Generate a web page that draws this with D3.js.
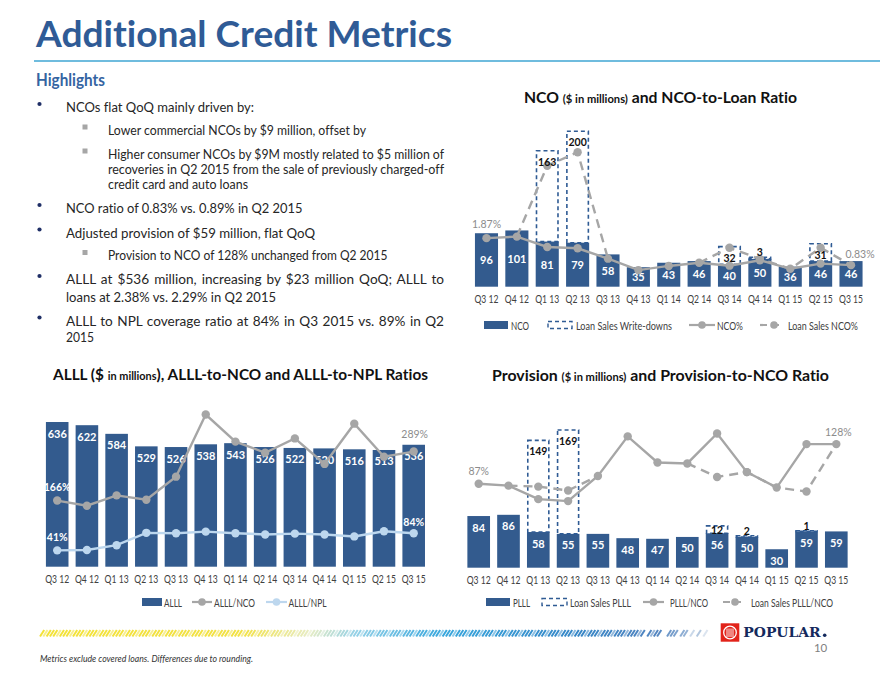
<!DOCTYPE html>
<html><head><meta charset="utf-8">
<script src="https://cdn.jsdelivr.net/npm/d3@7"></script>
<style>body{margin:0;background:#fff;}svg{display:block;font-variant-ligatures:none;}</style>
</head><body>
<script>
// ---------------- DATA ----------------
const quarters = ["Q3 12","Q4 12","Q1 13","Q2 13","Q3 13","Q4 13","Q1 14","Q2 14","Q3 14","Q4 14","Q1 15","Q2 15","Q3 15"];

// NCO chart
const ncoValues = [96,101,81,79,58,35,43,46,40,50,36,46,46];
const ncoLoanSales = [null,null,163,200,null,null,null,null,32,3,null,31,null];
const ncoRatio = [1.87,1.93,1.53,1.48,1.08,0.64,0.80,0.92,0.81,1.02,0.69,0.89,0.83];
const ncoLoanSalesRatio = [null,1.93,4.66,5.18,1.08,null,null,0.92,1.50,1.07,0.69,1.50,0.83];

// ALLL chart
const alllValues = [636,622,584,529,526,538,543,526,522,520,516,513,536];
const alllToNco = [166,153,179,168,226,382,314,286,322,258,359,276,289];
const alllToNpl = [41,42,54,85,84,88,84,81,83,81,76,89,84];

// Provision chart
const plllValues = [84,86,58,55,55,48,47,50,56,50,30,59,59];
const plllLoanSales = [null,null,149,169,null,null,null,null,12,2,null,1,null];
const plllToNco = [87,85,71,69,95,136,109,108,139,99,83,128,128];
const plllLoanSalesToNco = [null,85,84,80,95,null,null,108,94,99,83,79,128];

// Text
const pageTitle = "Additional Credit Metrics";
const highlightsTitle = "Highlights";
const highlightLines = [
  "NCOs flat QoQ mainly driven by:",
  "Lower commercial NCOs by $9 million, offset by",
  "Higher consumer NCOs by $9M mostly related to $5 million of",
  "recoveries in Q2 2015 from the sale of previously charged-off",
  "credit card and auto loans",
  "NCO ratio of 0.83% vs. 0.89% in Q2 2015",
  "Adjusted provision of $59 million, flat QoQ",
  "Provision to NCO of 128% unchanged from Q2 2015",
  "ALLL at $536 million, increasing by $23 million QoQ; ALLL to",
  "loans at 2.38% vs. 2.29% in Q2 2015",
  "ALLL to NPL coverage ratio at 84% in Q3 2015 vs. 89% in Q2",
  "2015"
];
const footnote = "Metrics exclude covered loans. Differences due to rounding.";
const pageNumber = "10";

// ---------------- LAYOUT / STYLE ----------------
const FONT = "Lato, 'Open Sans', 'DejaVu Sans', sans-serif";
const BAR = "#335b8e", GRAY = "#a6a6a6", LIGHT = "#bdd7ee", DASHBLUE = "#2f5b94", TITLEBLUE = "#2f5b96";

const svg = d3.select("body").append("svg").attr("width",880).attr("height",680)
  .style("font-family", FONT);

// Page title
svg.append("text").attr("x",36).attr("y",47).text(pageTitle)
  .attr("font-size",37).attr("font-weight",700).attr("fill",TITLEBLUE)
  .attr("textLength",416).attr("lengthAdjust","spacingAndGlyphs");
svg.append("line").attr("x1",34).attr("x2",880).attr("y1",61).attr("y2",61)
  .attr("stroke","#3fa6d3").attr("stroke-width",1.6);
svg.append("text").attr("x",36).attr("y",86).text(highlightsTitle)
  .attr("font-size",16.5).attr("font-weight",700).attr("fill","#3464a2")
  .attr("textLength",69).attr("lengthAdjust","spacingAndGlyphs");

// Highlight lines layout
const lineLevel = [1,2,2,0,0,1,1,2,1,0,1,0]; // 1: bullet, 2: sub-bullet, 0: continuation
const lineIndent = [66,108,108,108,108,66,66,108,66,66,66,66];
const lineBase = [112,134.5,158.5,174,189,213,237.5,260,284,302,325.5,341.5];
const lineEnd = [254,366,444,444,248,302.5,315,387.5,444,276,444,94];
const lineJust = [0,0,1,1,0,0,0,0,1,0,1,0];
highlightLines.forEach((t,i)=>{
  const size = lineIndent[i] > 100 ? 13 : 13.6;
  const el = svg.append("text").attr("x",lineIndent[i]).attr("y",lineBase[i])
    .attr("font-size",size).attr("fill","#262626").text(t);
  const w = el.node().getComputedTextLength();
  const target = lineEnd[i]-lineIndent[i];
  if (lineJust[i]) {
    const spaces = (t.match(/ /g)||[]).length;
    const ws = (target - w)/spaces;
    if (ws > -1.5) el.style("word-spacing", ws+"px");
    else el.attr("textLength",target).attr("lengthAdjust","spacingAndGlyphs");
  } else {
    el.attr("textLength",target).attr("lengthAdjust","spacingAndGlyphs");
  }
  if (lineLevel[i]===1) {
    svg.append("circle").attr("cx",39.5).attr("cy",lineBase[i]-8).attr("r",2.1).attr("fill","#1f2f66");
  } else if (lineLevel[i]===2) {
    svg.append("rect").attr("x",82.5).attr("y",lineBase[i]-10).attr("width",5).attr("height",5).attr("fill","#a6a6a6");
  }
});

// Chart titles
function chartTitle(cx, y, parts, len){
  const t = svg.append("text").attr("x",cx).attr("y",y).attr("text-anchor","middle")
    .attr("font-weight",700).attr("fill","#111");
  parts.forEach(p=>t.append("tspan").attr("font-size",p[1]).text(p[0]));
  t.attr("textLength",len).attr("lengthAdjust","spacingAndGlyphs");
}
chartTitle(660.5, 102.5, [["NCO ",15.5],["($ in millions)",11],[" and NCO-to-Loan Ratio",15.5]], 273);
chartTitle(240.5, 380, [["ALLL ($ ",15.5],["in millions",11],["), ALLL-to-NCO and ALLL-to-NPL Ratios",15.5]], 375);
chartTitle(660.5, 380.5, [["Provision ",15],["($ in millions)",10.5],[" and Provision-to-NCO Ratio",15]], 337);

// ---------------- CHART DRAWER ----------------
function drawChart(o){
  const g = svg.append("g");
  const x = d3.scaleBand().domain(quarters).range(o.xRange).paddingInner(0.24).paddingOuter(0.12);
  const y = d3.scaleLinear().domain([0,o.yMax]).range([o.base,o.yTop]);
  const yp = d3.scaleLinear().domain([0,o.pMax]).range([o.base,o.pTop]);
  const cx = i => x(quarters[i]) + x.bandwidth()/2;

  // bars
  g.append("g").selectAll("rect").data(o.bars).join("rect")
    .attr("x",(d,i)=>x(quarters[i])).attr("y",d=>y(d))
    .attr("width",x.bandwidth()).attr("height",d=>o.base-y(d)).attr("fill",BAR);

  // loan-sale boxes
  if (o.boxes) {
    const bd = o.boxes.map((v,i)=>({v,i})).filter(d=>d.v!=null);
    g.append("g").selectAll("rect").data(bd).join("rect")
      .attr("x",d=>x(quarters[d.i])+0.8).attr("width",x.bandwidth()-1.6)
      .attr("y",d=>y(o.bars[d.i]+d.v)).attr("height",d=>y(o.bars[d.i])-y(o.bars[d.i]+d.v))
      .attr("fill","none").attr("stroke",DASHBLUE).attr("stroke-width",1.6).attr("stroke-dasharray","4,3");
  }

  // axis
  const ax = g.append("g").attr("transform",`translate(0,${o.base})`)
    .call(d3.axisBottom(x).tickSize(0).tickPadding(9));
  ax.select(".domain").remove();
  ax.attr("font-family",FONT).attr("font-size",11);
  ax.selectAll("text").attr("fill","#404040").attr("textLength",24).attr("lengthAdjust","spacingAndGlyphs");

  // bar value labels
  g.append("g").selectAll("text").data(o.bars).join("text")
    .attr("x",(d,i)=>cx(i))
    .attr("y",d=> o.labelMode==="center" ? (y(d)+o.base)/2 : y(d)+11)
    .attr("dominant-baseline","central").attr("text-anchor","middle")
    .attr("font-size",11).attr("font-weight",700).attr("fill","#fff").text(d=>d);

  // lines
  const line = s => d3.line().defined(d=>d!=null).x((d,i)=>cx(i)).y(d=>yp(d))(s);
  o.lines.forEach(L=>{
    g.append("path").attr("d",line(L.data)).attr("fill","none").attr("stroke",L.color)
      .attr("stroke-width",2.4).attr("stroke-dasharray",L.dash?"9,6":null);
  });
  o.lines.forEach(L=>{
    g.append("g").selectAll("circle").data(L.data.map((v,i)=>({v,i})).filter(d=>d.v!=null && (!L.dotsWhere || L.dotsWhere[d.i]!=null)))
      .join("circle").attr("cx",d=>cx(d.i)).attr("cy",d=>yp(d.v)).attr("r",4.2).attr("fill",L.color);
  });

  // box labels
  if (o.boxes) {
    const bd = o.boxes.map((v,i)=>({v,i})).filter(d=>d.v!=null);
    g.append("g").selectAll("text").data(bd).join("text")
      .attr("x",d=>cx(d.i))
      .attr("y",d=>{
        const top = y(o.bars[d.i]+d.v), h = y(o.bars[d.i]) - top;
        return h > 15 ? top+11 : (h > 5 ? top+4 : top-5);
      })
      .attr("dominant-baseline","central").attr("text-anchor","middle")
      .attr("font-size",10.5).attr("font-weight",700).attr("fill","#111").text(d=>d.v);
  }

  // percent labels
  o.pctLabels.forEach(p=>{
    const v = p.series[p.i];
    g.append("text").attr("x",cx(p.i)+(p.dx||0)).attr("y",yp(v)+p.dy)
      .attr("dominant-baseline","central").attr("text-anchor","middle")
      .attr("font-size",10.5).attr("font-weight",p.white?700:400)
      .attr("fill",p.white?"#fff":"#8c8c8c").text(p.fmt(v));
  });

  // legend
  o.legend.forEach(it=>{
    const ly = o.legendY;
    if (it.type==="bar") g.append("rect").attr("x",it.x).attr("y",ly-4).attr("width",it.w).attr("height",8).attr("fill",BAR);
    if (it.type==="box") g.append("rect").attr("x",it.x).attr("y",ly-3.5).attr("width",it.w).attr("height",7)
      .attr("fill","none").attr("stroke",DASHBLUE).attr("stroke-width",1.4).attr("stroke-dasharray","4,3");
    if (it.type==="line"||it.type==="dash") {
      g.append("line").attr("x1",it.x).attr("x2",it.x+it.w).attr("y1",ly).attr("y2",ly)
        .attr("stroke",it.color).attr("stroke-width",2.2).attr("stroke-dasharray",it.type==="dash"?"7,5":null);
      g.append("circle").attr("cx",it.x+it.w/2+(it.type==="dash"?3:0)).attr("cy",ly).attr("r",3.8).attr("fill",it.color);
    }
    g.append("text").attr("x",it.tx).attr("y",ly).attr("dominant-baseline","central")
      .attr("font-size",11).attr("fill","#404040").text(it.label)
      .attr("textLength",it.tw).attr("lengthAdjust","spacingAndGlyphs");
  });
}

const pct2 = v => v.toFixed(2)+"%";
const pct0 = v => Math.round(v)+"%";

drawChart({
  xRange:[471.3,866.2], base:286.7, yMax:300, yTop:286.7-300*0.557, pMax:6, pTop:286.7-6*25.96,
  bars:ncoValues, boxes:ncoLoanSales, labelMode:"center",
  lines:[
    {data:ncoLoanSalesRatio, color:GRAY, dash:true, dotsWhere:ncoLoanSales},
    {data:ncoRatio, color:GRAY}
  ],
  pctLabels:[
    {series:ncoRatio, i:0, dy:-14, fmt:pct2},
    {series:ncoRatio, i:12, dy:-11, dx:9, fmt:pct2}
  ],
  legendY:325,
  legend:[
    {type:"bar", x:484, w:24, tx:511, tw:18, label:"NCO"},
    {type:"box", x:548, w:24, tx:576, tw:96, label:"Loan Sales Write-downs"},
    {type:"line", x:689, w:26, tx:717, tw:26, color:GRAY, label:"NCO%"},
    {type:"dash", x:760, w:22, tx:788, tw:70, color:GRAY, label:"Loan Sales NCO%"}
  ]
});

drawChart({
  xRange:[42.35,428.55], base:566.7, yMax:700, yTop:566.7-700*0.2275, pMax:400, pTop:566.7-400*0.3984,
  bars:alllValues, labelMode:"top",
  lines:[
    {data:alllToNpl, color:LIGHT},
    {data:alllToNco, color:GRAY}
  ],
  pctLabels:[
    {series:alllToNco, i:0, dy:-14, white:true, fmt:pct0},
    {series:alllToNco, i:12, dy:-18, dx:1, fmt:pct0},
    {series:alllToNpl, i:0, dy:-13, white:true, fmt:pct0},
    {series:alllToNpl, i:12, dy:-11, white:true, fmt:pct0}
  ],
  legendY:602,
  legend:[
    {type:"bar", x:142, w:20, tx:164, tw:18, label:"ALLL"},
    {type:"line", x:192, w:20, tx:214, tw:41, color:GRAY, label:"ALLL/NCO"},
    {type:"line", x:266, w:21, tx:288.5, tw:38, color:LIGHT, label:"ALLL/NPL"}
  ]
});

drawChart({
  xRange:[463.8,851.2], base:567.7, yMax:250, yTop:567.7-250*0.615, pMax:160, pTop:567.7-160*0.9655,
  bars:plllValues, boxes:plllLoanSales, labelMode:"top",
  lines:[
    {data:plllLoanSalesToNco, color:GRAY, dash:true, dotsWhere:plllLoanSales},
    {data:plllToNco, color:GRAY}
  ],
  pctLabels:[
    {series:plllToNco, i:0, dy:-13, fmt:pct0},
    {series:plllToNco, i:12, dy:-12, dx:2, fmt:pct0}
  ],
  legendY:602,
  legend:[
    {type:"bar", x:486, w:24, tx:513, tw:17, label:"PLLL"},
    {type:"box", x:542, w:25, tx:570, tw:61, label:"Loan Sales PLLL"},
    {type:"line", x:643, w:21, tx:670, tw:38, color:GRAY, label:"PLLL/NCO"},
    {type:"dash", x:723, w:18, tx:751, tw:82, color:GRAY, label:"Loan Sales PLLL/NCO"}
  ]
});

// ---------------- FOOTER ----------------
const stripeColor = d3.scaleLinear()
  .domain([0,0.3,0.4,0.47,0.6,0.8,0.92,1])
  .range(["#f3e12f","#f2e03c","#e6ecc2","#8fcfe6","#2ea3dc","#2c80c4","#4a7fbd","#c9d6e6"]);
const sx0 = 40, sx1 = 708, step = 3.3;
const sg = svg.append("g");
for (let xx = sx0; xx < sx1; xx += step) {
  const t = (xx - sx0)/(sx1 - sx0);
  const k = Math.round((xx - sx0)/step);
  if (t > 0.9 && (k % 5 === 3 || k % 7 === 0)) continue;
  if (t > 0.96 && k % 2 === 0) continue;
  sg.append("line").attr("x1",xx).attr("y1",636.5).attr("x2",xx+4.2).attr("y2",630)
    .attr("stroke",stripeColor(t)).attr("stroke-width",2)
    .attr("opacity", k % 4 === 1 ? 0.55 : 0.95);
}
// logo
svg.append("rect").attr("x",720.7).attr("y",623.3).attr("width",18.6).attr("height",18.4).attr("fill","#e2231a");
svg.append("circle").attr("cx",730).attr("cy",632.5).attr("r",6.3).attr("fill","none").attr("stroke","#fff").attr("stroke-width",1.3);
[-3,-1,1,3].forEach(d=>svg.append("line").attr("x1",730+d).attr("x2",730+d).attr("y1",628.5).attr("y2",637)
  .attr("stroke","#fff").attr("stroke-width",0.9));
svg.append("text").attr("x",743.3).attr("y",636.5).text("POPULAR")
  .attr("font-family","'DejaVu Serif', serif").attr("font-weight",700).attr("font-size",12.5)
  .attr("fill","#14295c").attr("textLength",77.4).attr("lengthAdjust","spacingAndGlyphs");
svg.append("circle").attr("cx",824.7).attr("cy",635.3).attr("r",1.8).attr("fill","#14295c");
svg.append("text").attr("x",827.3).attr("y",652).attr("text-anchor","end").text(pageNumber)
  .attr("font-size",11.5).attr("fill","#7f7f7f");
svg.append("text").attr("x",40).attr("y",661.5).text(footnote)
  .attr("font-size",9.3).attr("font-style","italic").attr("fill","#333")
  .attr("textLength",213).attr("lengthAdjust","spacingAndGlyphs");
</script>
</body></html>
